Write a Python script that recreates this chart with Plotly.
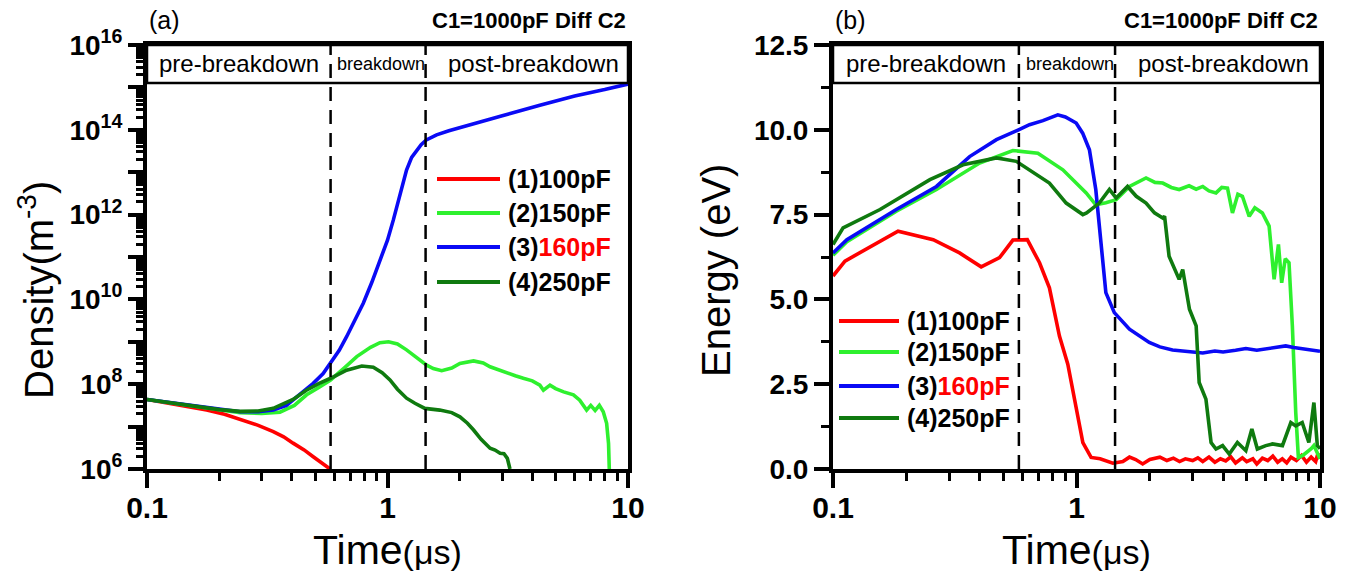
import plotly.graph_objects as go

# ---------------- Panel (a): electron density vs time ----------------
t_a1 = [0.1, 0.13, 0.177, 0.21, 0.244, 0.29, 0.335, 0.37, 0.405, 0.45, 0.491, 0.54, 0.577]
n_a1 = [4.37e7, 3.39e7, 2.45e7, 1.95e7, 1.45e7, 1.07e7, 7.6e6, 5.75e6, 4.07e6, 2.82e6,
        1.95e6, 1.35e6, 1.0e6]

t_a2 = [0.1, 0.15, 0.2, 0.244, 0.3, 0.357, 0.41, 0.461, 0.52, 0.58, 0.66, 0.745, 0.85, 0.93,
        1.01, 1.1, 1.2, 1.32, 1.455, 1.55, 1.68, 1.85, 2.0, 2.28, 2.5, 2.67, 2.9, 3.13, 3.4,
        3.67, 4.0, 4.3, 4.45, 4.74, 5.0, 5.4, 5.93, 6.3, 6.73, 7.0, 7.3, 7.6, 7.89, 8.15,
        8.3, 8.36]
n_a2 = [4.37e7, 3.16e7, 2.51e7, 2.14e7, 2.04e7, 2.19e7, 3.16e7, 5.62e7, 8.5e7, 1.26e8,
        2.4e8, 4.47e8, 7.4e8, 9.5e8, 1.0e9, 8.9e8, 6.46e8, 4.17e8, 2.82e8, 2.34e8, 2.09e8,
        2.4e8, 3.09e8, 3.55e8, 3.16e8, 2.57e8, 2.14e8, 1.82e8, 1.58e8, 1.38e8, 1.2e8,
        9.5e7, 7.2e7, 9.5e7, 7.9e7, 6.6e7, 5.6e7, 4.2e7, 2.45e7, 3.16e7, 2.4e7, 3.16e7,
        2.24e7, 1.2e7, 4.0e6, 1.0e6]

t_a3 = [0.1, 0.151, 0.2, 0.244, 0.29, 0.335, 0.38, 0.419, 0.455, 0.491, 0.54, 0.58, 0.63,
        0.676, 0.73, 0.793, 0.86, 0.931, 1.0, 1.057, 1.13, 1.2, 1.26, 1.32, 1.38, 1.45, 1.6,
        1.8, 2.28, 3.0, 4.3, 6.0, 8.0, 10.0]
n_a3 = [4.37e7, 3.24e7, 2.57e7, 2.24e7, 2.24e7, 2.45e7, 3.16e7, 5.0e7, 7.2e7, 1.05e8,
        1.78e8, 3.09e8, 6.3e8, 1.32e9, 3.16e9, 8.1e9, 2.5e10, 8.5e10, 2.5e11, 7.4e11,
        3.16e12, 1.12e13, 2.24e13, 3.31e13, 4.47e13, 5.75e13, 7.6e13, 9.5e13, 1.41e14,
        2.14e14, 3.8e14, 6.3e14, 8.9e14, 1.2e15]

t_a4 = [0.1, 0.15, 0.2, 0.244, 0.29, 0.335, 0.405, 0.46, 0.52, 0.58, 0.676, 0.782, 0.873,
        0.95, 1.024, 1.1, 1.2, 1.3, 1.43, 1.65, 1.85, 2.0, 2.15, 2.28, 2.45, 2.67, 2.8,
        2.94, 3.05, 3.15, 3.23]
n_a4 = [4.37e7, 3.16e7, 2.51e7, 2.29e7, 2.34e7, 2.69e7, 4.37e7, 7.2e7, 1.05e8, 1.38e8,
        2.14e8, 2.69e8, 2.51e8, 1.86e8, 1.26e8, 7.6e7, 4.68e7, 3.55e7, 2.69e7, 2.45e7,
        2.14e7, 1.7e7, 1.2e7, 8.3e6, 5.0e6, 3.1e6, 2.8e6, 2.34e6, 2.29e6, 1.78e6, 1.0e6]

# ---------------- Panel (b): electron energy vs time ----------------
t_b1 = [0.1, 0.112, 0.185, 0.258, 0.331, 0.406, 0.483, 0.548, 0.628, 0.705, 0.774, 0.851,
        0.921, 0.997, 1.062, 1.148, 1.25, 1.41, 1.55, 1.65, 1.75, 1.87, 2.0, 2.2, 2.35,
        2.5, 2.65, 2.8, 3.0, 3.15, 3.3, 3.5, 3.7, 3.9, 4.1, 4.3, 4.5, 4.8, 5.0, 5.3, 5.5,
        5.8, 6.1, 6.4, 6.7, 7.0, 7.3, 7.6, 8.0, 8.4, 8.8, 9.2, 9.6, 9.8, 10.0]
e_b1 = [5.69, 6.13, 7.01, 6.76, 6.37, 5.96, 6.23, 6.75, 6.76, 6.08, 5.34, 3.92, 3.09, 1.86,
        0.78, 0.34, 0.3, 0.17, 0.22, 0.35, 0.28, 0.15, 0.28, 0.35, 0.25, 0.32, 0.22, 0.3,
        0.25, 0.33, 0.22, 0.35, 0.2, 0.3, 0.24, 0.36, 0.18, 0.33, 0.22, 0.3, 0.15, 0.32,
        0.25, 0.38, 0.2, 0.3, 0.18, 0.35, 0.25, 0.4, 0.2, 0.35, 0.22, 0.45, 0.3]

t_b2 = [0.1, 0.114, 0.182, 0.266, 0.4, 0.548, 0.694, 0.879, 1.096, 1.2, 1.32, 1.455, 1.65,
        1.93, 2.1, 2.26, 2.45, 2.64, 2.9, 3.1, 3.3, 3.5, 3.74, 3.95, 4.17, 4.37, 4.6, 4.8,
        5.12, 5.4, 5.8, 6.18, 6.48, 6.75, 6.96, 7.2, 7.46, 7.7, 7.95, 8.15, 8.5, 8.9, 9.2,
        9.44, 9.7, 10.0]
e_b2 = [6.3, 6.7, 7.6, 8.24, 9.02, 9.39, 9.31, 8.82, 8.14, 7.79, 7.85, 7.94, 8.33, 8.58,
        8.45, 8.43, 8.3, 8.24, 8.35, 8.25, 8.33, 8.2, 8.14, 8.3, 8.28, 7.55, 8.1, 8.04,
        7.45, 7.7, 7.55, 7.16, 5.59, 6.62, 5.49, 6.2, 6.08, 4.22, 1.67, 0.34, 0.4, 0.5,
        0.6, 0.69, 0.5, 0.3]

t_b3 = [0.1, 0.114, 0.182, 0.266, 0.364, 0.469, 0.578, 0.641, 0.728, 0.838, 0.9, 0.997,
        1.06, 1.13, 1.2, 1.26, 1.32, 1.43, 1.65, 1.99, 2.2, 2.48, 2.9, 3.3, 3.7, 4.0, 4.5,
        4.96, 5.5, 6.0, 6.6, 7.23, 7.8, 8.5, 9.2, 9.75, 10.0]
e_b3 = [6.37, 6.76, 7.65, 8.33, 9.21, 9.71, 10.0, 10.15, 10.27, 10.44, 10.38, 10.2, 9.9,
        9.41, 8.24, 6.76, 5.2, 4.61, 4.12, 3.73, 3.6, 3.51, 3.45, 3.42, 3.48, 3.45, 3.5,
        3.55, 3.5, 3.54, 3.58, 3.63, 3.58, 3.55, 3.52, 3.48, 3.47]

t_b4 = [0.1, 0.11, 0.156, 0.25, 0.342, 0.469, 0.566, 0.641, 0.774, 0.907, 1.062, 1.1, 1.24,
        1.365, 1.455, 1.62, 1.76, 1.93, 2.09, 2.26, 2.3, 2.4, 2.56, 2.64, 2.73, 2.91, 3.1,
        3.19, 3.4, 3.57, 3.74, 3.98, 4.24, 4.58, 4.96, 5.25, 5.53, 5.99, 6.38, 7.01, 7.59,
        7.95, 8.45, 9.0, 9.44, 9.75, 10.0]
e_b4 = [6.62, 7.11, 7.65, 8.53, 8.97, 9.17, 9.07, 8.82, 8.43, 7.84, 7.5, 7.55, 7.84, 8.24,
        7.99, 8.33, 8.04, 7.84, 7.55, 7.4, 7.45, 6.27, 5.78, 5.59, 5.88, 4.71, 4.22, 2.55,
        2.06, 0.78, 0.59, 0.69, 0.44, 0.78, 0.54, 1.18, 0.59, 0.69, 0.74, 0.69, 1.37, 1.27,
        1.37, 0.78, 1.96, 0.69, 0.6]

series_names = ["(1)100pF", "(2)150pF", "(3)<span style='color:#FF0000'>160pF</span>",
                "(4)250pF"]
series_colors = ["#FF0000", "#2EF02E", "#0A0AF5", "#0F7A0F"]

# discharge stage boundaries (µs)
t_breakdown_start = 0.58
t_breakdown_end = 1.44

W, H = 1347, 575
FONT = "Liberation Sans, Arial, sans-serif"

# plot area pixel boxes
ax_a = (147, 628)
ax_b = (833, 1320)
y_top, y_bot = 45, 469
ydom = [1 - y_bot / H, 1 - y_top / H]

fig = go.Figure()

panel_a = [(t_a1, n_a1), (t_a2, n_a2), (t_a3, n_a3), (t_a4, n_a4)]
panel_b = [(t_b1, e_b1), (t_b2, e_b2), (t_b3, e_b3), (t_b4, e_b4)]

for (t, v), c in zip(panel_a, series_colors):
    fig.add_trace(go.Scatter(x=t, y=v, mode="lines", line=dict(color=c, width=3.6),
                             xaxis="x", yaxis="y", showlegend=False))
for (t, v), c in zip(panel_b, series_colors):
    fig.add_trace(go.Scatter(x=t, y=v, mode="lines", line=dict(color=c, width=3.6),
                             xaxis="x2", yaxis="y2", showlegend=False))

x_minor = [0.2, 0.3, 0.4, 0.5, 0.6, 0.7, 0.8, 0.9, 2, 3, 4, 5, 6, 7, 8, 9]
y_major = [10.0 ** e for e in range(6, 17)]
y_major_text = [f"10<sup>{e}</sup>" if e % 2 == 0 else "" for e in range(6, 17)]
y_minor = [k * 10.0 ** e for e in range(6, 16) for k in range(2, 10)]

xtickfont = dict(family=FONT, size=30, color="black", weight="bold")
ytickfont = dict(family=FONT, size=28, color="black", weight="bold")


def xaxis_cfg(px_range):
    return dict(
        type="log", range=[-1, 1], domain=[px_range[0] / W, px_range[1] / W],
        tickvals=[0.1, 1, 10], ticktext=["0.1", "1", "10"],
        ticks="outside", ticklen=15, tickwidth=3.5, tickcolor="black",
        minor=dict(tickvals=x_minor, ticks="outside", ticklen=8, tickwidth=3,
                   tickcolor="black"),
        showline=True, linewidth=4, linecolor="black", mirror=True,
        showgrid=False, zeroline=False, tickfont=xtickfont, automargin=False,
        ticklabelstandoff=-6,
    )


def yaxis_cfg(**kw):
    base = dict(
        domain=ydom, ticks="outside", ticklen=15, tickwidth=3.5, tickcolor="black",
        showline=True, linewidth=4, linecolor="black", mirror=True,
        showgrid=False, zeroline=False, tickfont=ytickfont, automargin=False,
    )
    base.update(kw)
    return base


fig.update_layout(
    width=W, height=H,
    margin=dict(l=0, r=0, t=0, b=0, pad=0, autoexpand=False),
    paper_bgcolor="white", plot_bgcolor="white", showlegend=False,
    xaxis=dict(anchor="y", **xaxis_cfg(ax_a)),
    xaxis2=dict(anchor="y2", **xaxis_cfg(ax_b)),
    yaxis=yaxis_cfg(
        type="log", range=[6, 16], anchor="x",
        tickvals=y_major, ticktext=y_major_text,
        minor=dict(tickvals=y_minor, ticks="outside", ticklen=7, tickwidth=2.5,
                   tickcolor="black"),
    ),
    yaxis2=yaxis_cfg(
        range=[0, 12.5], anchor="x2",
        tickvals=[0, 2.5, 5, 7.5, 10, 12.5],
        ticktext=["0.0", "2.5", "5.0", "7.5", "10.0", "12.5"],
        minor=dict(dtick=1.25, ticks="outside", ticklen=8, tickwidth=3,
                   tickcolor="black"),
    ),
)

header_bottom = (y_bot - 83) / (y_bot - y_top)
shapes = []
annotations = []

for xa, ya, (x0, x1) in [("x", "y", ax_a), ("x2", "y2", ax_b)]:
    # dashed boundaries between the discharge stages
    for tb in (t_breakdown_start, t_breakdown_end):
        shapes.append(dict(type="line", xref=xa, yref=f"{ya} domain", x0=tb, x1=tb,
                           y0=0, y1=1, line=dict(color="black", width=2.5,
                                                 dash="14px,9px")))
    # stage header band
    shapes.append(dict(type="rect", xref=f"{xa} domain", yref=f"{ya} domain",
                       x0=0, x1=1, y0=header_bottom, y1=1,
                       line=dict(color="black", width=2.5)))
    ymid = (1 + header_bottom) / 2
    px_start = x0 + (x1 - x0) * 0.383
    px_end = x0 + (x1 - x0) * 0.581
    labels = [((x0 + px_start) / 2, "pre-breakdown", 24),
              ((px_start + px_end) / 2 + 2, "breakdown", 18),
              ((px_end + x1) / 2 + 6, "post-breakdown", 24)]
    for xc, txt, sz in labels:
        annotations.append(dict(x=xc / W, y=ymid, xref="paper", yref=f"{ya} domain",
                                text=txt, showarrow=False, xanchor="center",
                                yanchor="middle",
                                font=dict(family=FONT, size=sz, color="black")))

# panel letters and condition labels
for lab, x0, x1 in [("(a)", *ax_a), ("(b)", *ax_b)]:
    annotations.append(dict(x=x0 / W, y=1 - 20 / H, xref="paper", yref="paper", text=lab,
                            showarrow=False, xanchor="left", yanchor="middle",
                            font=dict(family=FONT, size=25, color="black")))
    annotations.append(dict(x=x1 / W, y=1 - 20 / H, xref="paper", yref="paper",
                            text="C1=1000pF Diff C2", showarrow=False, xanchor="right",
                            yanchor="middle",
                            font=dict(family=FONT, size=22, color="black", weight="bold")))

time_title = "Time<span style='font-size:34px'>(μs)</span>"
for xc in ((ax_a[0] + ax_a[1]) / 2, (ax_b[0] + ax_b[1]) / 2):
    annotations.append(dict(x=xc / W, y=1 - 550 / H, xref="paper", yref="paper",
                            text=time_title, showarrow=False, xanchor="center",
                            yanchor="middle",
                            font=dict(family=FONT, size=41, color="black")))

annotations.append(dict(x=36 / W, y=1 - 290 / H, xref="paper", yref="paper",
                        text="Density(m<sup>-3</sup>)", textangle=-90, showarrow=False,
                        xanchor="center", yanchor="middle",
                        font=dict(family=FONT, size=40, color="black")))
annotations.append(dict(x=716 / W, y=1 - 270 / H, xref="paper", yref="paper",
                        text="Energy (eV)", textangle=-90, showarrow=False,
                        xanchor="center", yanchor="middle",
                        font=dict(family=FONT, size=40, color="black")))

# legends: line samples with labels
legend_layout = [((437, 500), [179, 213, 247, 282]), ((839, 899), [321, 352, 386, 418])]
for (lx0, lx1), rows in legend_layout:
    for name, col, yy in zip(series_names, series_colors, rows):
        shapes.append(dict(type="line", xref="paper", yref="paper",
                           x0=lx0 / W, x1=lx1 / W, y0=1 - yy / H, y1=1 - yy / H,
                           line=dict(color=col, width=4)))
        annotations.append(dict(x=(lx1 + 6) / W, y=1 - yy / H, xref="paper",
                                yref="paper", text=name, showarrow=False,
                                xanchor="left", yanchor="middle",
                                font=dict(family=FONT, size=25, color="black",
                                          weight="bold")))

fig.update_layout(shapes=shapes, annotations=annotations)
fig.write_html("out.html")
